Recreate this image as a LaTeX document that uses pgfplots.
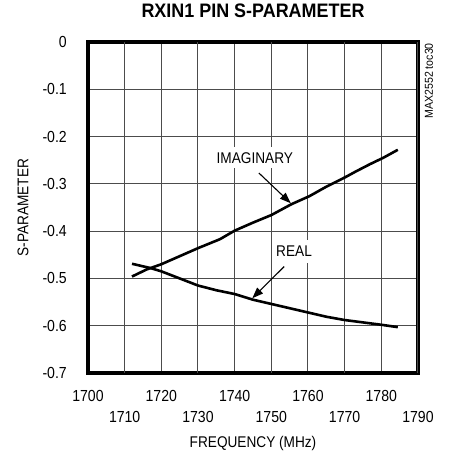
\documentclass[border=0pt]{standalone}
\usepackage{pgfplots}
\pgfplotsset{compat=1.18}
\usepackage{fontspec}
\setmainfont{Liberation Sans}[FakeStretch=0.88]
\usetikzlibrary{arrows.meta}
\begin{document}
\begin{tikzpicture}
\useasboundingbox (-88pt,-84pt) rectangle (360pt,373pt);
\begin{axis}[
  scale only axis, width=330pt, height=331pt,
  xmin=1700, xmax=1790, ymin=-0.7, ymax=0,
  xtick={1700,1720,1740,1760,1780},
  extra x ticks={1710,1730,1750,1770,1790},
  extra x tick style={grid=major, xticklabel style={yshift=-21pt}},
  ytick={-0.7,-0.6,...,0},
  yticklabels={-0.7,-0.6,-0.5,-0.4,-0.3,-0.2,-0.1,0},
  grid=major,
  major grid style={black!70, line width=1pt},
  axis line style={line width=3.2pt},
  tick style={draw=none},
  /pgf/number format/assume math mode=true,
  /pgf/number format/1000 sep={},
  tick label style={font=\fontsize{16}{18}\selectfont, inner sep=0pt},
  xticklabel style={anchor=north, yshift=-17pt},
  yticklabel style={anchor=east, xshift=-21pt},
  xlabel={FREQUENCY (MHz)},
  ylabel={S-PARAMETER},
  label style={font=\fontsize{15.5}{18}\selectfont, inner sep=0pt},
  xlabel style={at={(axis description cs:0.5,-0.19)}, anchor=north},
  ylabel style={at={(axis description cs:-0.197,0.5)}, anchor=center, rotate=0},
  title={RXIN1 PIN S-PARAMETER},
  title style={font=\fontsize{19.5}{22}\bfseries\addfontfeatures{FakeStretch=0.92}, at={(0.5,1)}, anchor=center, yshift=25pt},
  clip=false,
]
\addplot[black, line width=2.6pt] coordinates {
 (1712,-0.496) (1716,-0.481) (1720,-0.470) (1725,-0.453) (1730,-0.436)
 (1736,-0.417) (1740,-0.399) (1745,-0.382) (1750,-0.366) (1755.5,-0.343)
 (1760.4,-0.326) (1765,-0.306) (1770.4,-0.285) (1773,-0.274) (1777,-0.258)
 (1780.5,-0.245) (1784.5,-0.228)};
\addplot[black, line width=2.6pt] coordinates {
 (1712,-0.469) (1717,-0.478) (1720,-0.485) (1725,-0.500) (1730,-0.515)
 (1735,-0.525) (1740,-0.533) (1745,-0.545) (1750,-0.554) (1755,-0.563)
 (1760,-0.572) (1765,-0.581) (1770,-0.588) (1775,-0.593) (1780,-0.598) (1784.5,-0.603)};
\node[fill=white, inner xsep=3pt, inner ysep=5pt, font=\fontsize{15.5}{18}\selectfont] at (axis cs:1745.5,-0.245) {IMAGINARY};
\node[fill=white, inner xsep=3pt, inner ysep=6pt, font=\fontsize{15.5}{18}\selectfont] at (axis cs:1756.2,-0.443) {REAL};
\draw[line width=1.1pt, -{Triangle[length=11pt,width=8pt]}] (axis cs:1746.6,-0.277) -- (axis cs:1755.3,-0.341);
\draw[line width=1.1pt, -{Triangle[length=11pt,width=8pt]}] (axis cs:1753.5,-0.475) -- (axis cs:1744.8,-0.542);
\node[rotate=90, anchor=east, inner sep=0pt, font=\fontsize{11.5}{13}\selectfont\addfontfeatures{FakeStretch=0.92}] at ([xshift=11pt,yshift=-1pt]rel axis cs:1,1) {MAX2552 toc30};
\end{axis}
\end{tikzpicture}
\end{document}
